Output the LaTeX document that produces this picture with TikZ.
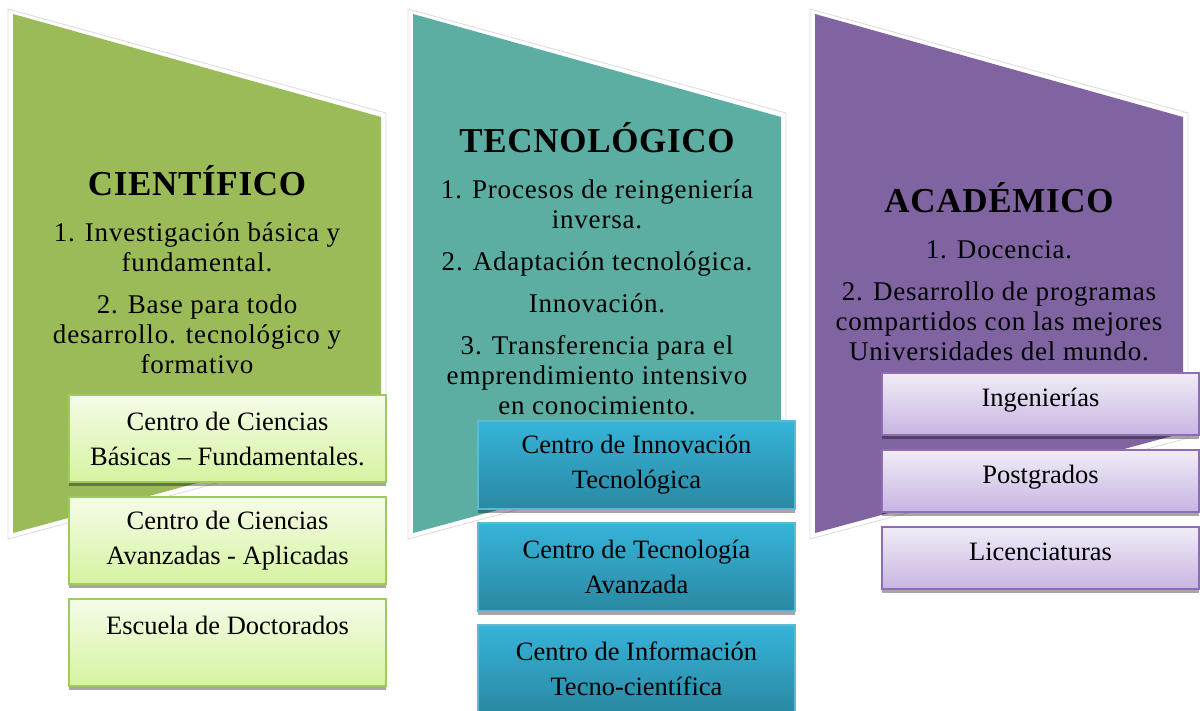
\documentclass[tikz,border=0pt]{standalone}
\usepackage{fontspec}
\setmainfont{Liberation Serif}
\usepackage{tikz}
\usetikzlibrary{positioning,shadows}
\usepackage{xcolor}

\definecolor{gShape}{HTML}{9BBB59}
\definecolor{tShape}{HTML}{5CAEA3}
\definecolor{pShape}{HTML}{8064A2}
\definecolor{gTop}{HTML}{F5FCE8}
\definecolor{gBot}{HTML}{D6F3A0}
\definecolor{gLine}{HTML}{9FCB5E}
\definecolor{tTop}{HTML}{36B4DA}
\definecolor{tBot}{HTML}{2A88A2}
\definecolor{tLine}{HTML}{5ABBD6}
\definecolor{pTop}{HTML}{F1ECF7}
\definecolor{pBot}{HTML}{C7B5E2}
\definecolor{pLine}{HTML}{8E6DB4}

\newcommand{\ttl}[1]{{\fontsize{35}{35}\selectfont\bfseries\addfontfeature{LetterSpace=2}\rule{0pt}{35pt}#1}}

\begin{document}
\begin{tikzpicture}[
  x=1pt, y=-1pt,
  halo/.style={draw=gray!28, fill=white, line width=0.8pt},
  txt/.style={anchor=north, align=center, inner sep=0pt,
    font=\fontsize{27}{30}\selectfont\addfontfeature{LetterSpace=3}},
  ctr/.style={draw=#1, line width=1.2pt, minimum width=317pt, inner sep=0pt, outer sep=0pt,
    align=center, font=\fontsize{26.5}{35}\selectfont,
    drop shadow={shadow xshift=0pt, shadow yshift=-4pt, opacity=0.35, fill=black}},
  gbox/.style={ctr=gLine, minimum height=87pt, top color=gTop, bottom color=gBot},
  tbox/.style={ctr=tLine, minimum height=88pt, top color=tTop, bottom color=tBot},
  pbox/.style={ctr=pLine, minimum height=62pt, text height=16pt, text depth=12pt,
    top color=pTop, bottom color=pBot}
]
  \useasboundingbox (0,0) rectangle (1200,710);

  \foreach \xo/\col in {13/gShape, 413/tShape, 815/pShape} {
    \draw[halo] (\xo-5,9) -- (\xo+373,113) -- (\xo+373,438) -- (\xo-5,539) -- cycle;
    \fill[\col] (\xo,14) -- (\xo+368,117) -- (\xo+368,433) -- (\xo,533) -- cycle;
  }

  \node[txt] (cie) at (197,160) {\ttl{CIENTÍFICO}\\[16pt]1. Investigación básica y\\fundamental.\\[12pt]2. Base para todo\\desarrollo. tecnológico y\\formativo};
  \node[txt] (tec) at (597,117) {\ttl{TECNOLÓGICO}\\[16pt]1. Procesos de reingeniería\\inversa.\\[12pt]2. Adaptación tecnológica.\\[12pt]Innovación.\\[12pt]3. Transferencia para el\\emprendimiento intensivo\\en conocimiento.};
  \node[txt] (aca) at (999,177) {\ttl{ACADÉMICO}\\[16pt]1. Docencia.\\[12pt]2. Desarrollo de programas\\compartidos con las mejores\\Universidades del mundo.};

  \node[gbox] (cie1) at (227.5,438.5) {Centro de Ciencias\\Básicas – Fundamentales.};
  \node[gbox, below=15pt of cie1] (cie2) {Centro de Ciencias\\Avanzadas - Aplicadas};
  \node[gbox, below=15pt of cie2] (cie3) {Escuela de Doctorados\\~};

  \node[tbox] (tec1) at (636.5,465) {Centro de Innovación\\Tecnológica};
  \node[tbox, below=14pt of tec1] (tec2) {Centro de Tecnología\\Avanzada};
  \node[tbox, below=14pt of tec2] (tec3) {Centro de Información\\Tecno-científica};

  \node[pbox] (aca1) at (1040.5,404) {Ingenierías};
  \node[pbox, below=15pt of aca1] (aca2) {Postgrados};
  \node[pbox, below=15pt of aca2] (aca3) {Licenciaturas};
\end{tikzpicture}
\end{document}
